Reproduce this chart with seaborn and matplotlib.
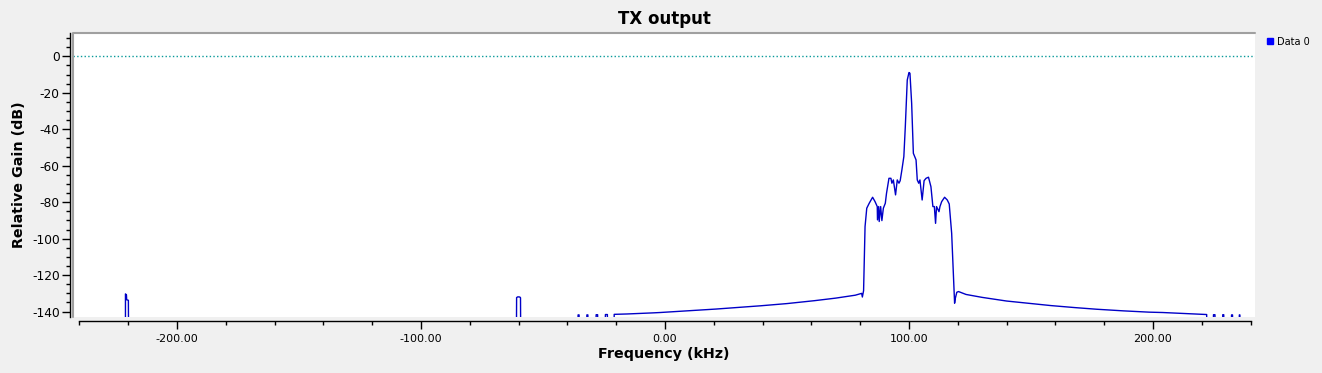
import pandas as pd
import seaborn as sns
import matplotlib.pyplot as plt
from matplotlib.lines import Line2D
from matplotlib.ticker import MultipleLocator, StrMethodFormatter

# Values (kHz, dB).
# -160 means the trace is below the visible floor at that point.
freq_khz = [
    -242.0, -221.1, -221.1, -220.7, -220.6, -219.9, -219.8,
    -60.9, -60.8, -60.3, -59.5, -59.2, -59.1,
    -35.8, -35.6, -35.2, -35.0, -32.2, -32.0, -31.6, -31.4,
    -28.4, -28.2, -27.6, -27.4, -24.6, -24.4, -23.6, -23.4,
    -21.0, -20.8, -18.0, -15.6, -10.0, -5.0, -2.0, 2.7, 10.0,
    20.9, 30.0, 39.3, 50.0, 61.3, 70.0, 78.0, 80.6, 80.9, 81.4,
    82.0, 82.7, 83.7, 85.1, 86.1, 87.0, 87.1, 87.6, 87.8, 88.4,
    88.9, 89.5, 90.3, 90.8, 91.8, 92.6, 93.0, 93.6, 94.5, 95.2,
    95.9, 96.4, 97.1, 97.9, 98.5, 99.3, 100.0, 100.4, 101.1, 101.8,
    102.9, 103.4, 104.0, 104.5, 105.4, 106.2, 107.0, 108.0, 109.0,
    109.8, 110.4, 110.9, 111.3, 112.3, 112.7, 113.4, 114.6, 115.7,
    116.5, 117.5, 118.2, 118.7, 119.0, 119.6, 120.3, 123.4, 130.0,
    140.0, 150.0, 158.2, 168.0, 176.9, 188.0, 198.4, 204.0, 212.0,
    220.5, 222.0, 222.2, 224.6, 224.8, 225.4, 225.6, 228.4, 228.6,
    229.0, 229.2, 232.0, 232.2, 232.6, 232.8, 235.2, 235.4, 235.6,
    235.8, 242.0,
]
gain_db = [
    -160.0, -160.0, -130.3, -130.8, -133.5, -133.8, -160.0,
    -160.0, -132.3, -131.9, -132.0, -132.4, -160.0,
    -160.0, -141.8, -141.8, -160.0, -160.0, -141.8, -141.8, -160.0,
    -160.0, -141.7, -141.7, -160.0, -160.0, -141.6, -141.6, -160.0,
    -160.0, -141.5, -141.4, -141.3, -141.0, -140.7, -140.5, -140.1, -139.5,
    -138.6, -137.7, -136.8, -135.6, -134.0, -132.6, -131.0, -130.0, -132.0, -128.5,
    -93.4, -83.3, -80.6, -77.3, -79.7, -82.4, -89.7, -82.4, -90.6, -82.4,
    -90.1, -83.3, -80.6, -75.1, -66.9, -66.9, -69.6, -67.8, -76.0, -67.8,
    -69.6, -68.2, -62.3, -55.0, -38.6, -13.0, -8.9, -9.3, -25.8, -53.2,
    -56.8, -67.8, -69.6, -67.8, -78.8, -68.2, -66.9, -66.3, -71.5,
    -82.4, -82.4, -91.6, -82.4, -85.2, -82.4, -79.7, -77.3, -78.8,
    -81.0, -97.1, -119.0, -135.4, -132.7, -129.4, -129.0, -130.6, -132.2,
    -134.2, -135.6, -136.7, -137.8, -138.7, -139.6, -140.3, -140.5, -141.0,
    -141.5, -141.6, -160.0, -160.0, -141.7, -141.7, -160.0, -160.0, -141.7,
    -141.7, -160.0, -160.0, -141.8, -141.8, -160.0, -160.0, -141.8, -141.8,
    -160.0, -160.0,
]

x_ticks = [-200, -100, 0, 100, 200]
y_ticks = [-140, -120, -100, -80, -60, -40, -20, 0]

df = pd.DataFrame({"freq": freq_khz, "gain": gain_db})

sns.set_style("white")
plt.rcParams["font.family"] = ["DejaVu Sans"]
plt.rcParams["axes.unicode_minus"] = False
plt.rcParams["text.color"] = "black"
plt.rcParams["axes.labelcolor"] = "black"
plt.rcParams["xtick.color"] = "black"
plt.rcParams["ytick.color"] = "black"

fig = plt.figure(figsize=(13.22, 3.73), dpi=100, facecolor="#f0f0f0")
ax = fig.add_axes([0.0554, 0.1509, 0.8939, 0.7598])
ax.set_facecolor("white")

sns.lineplot(data=df, x="freq", y="gain", sort=False, estimator=None,
             color="#0000c8", lw=1.0, ax=ax, legend=False)
ax.axhline(0, color="#0a9a9a", ls=":", lw=1.0)

ax.set_xlim(-242.5, 241.8)
ax.set_ylim(-142.8, 12.6)

# scales like the Qwt plot: ticks outside, backbones a bit off the canvas
for side in ["top", "right"]:
    ax.spines[side].set_visible(False)
ax.spines["left"].set_position(("outward", 2.2))
ax.spines["bottom"].set_position(("outward", 3.0))
ax.spines["bottom"].set_bounds(-240, 240)
for side in ["left", "bottom"]:
    ax.spines[side].set_color("black")
    ax.spines[side].set_linewidth(1.0)

# sunken canvas frame (top and left edges)
ax.plot([0, 0, 1.0], [0, 1, 1], transform=ax.transAxes, color="#a0a0a0",
        lw=1.5, clip_on=False, zorder=5)

ax.set_xticks(x_ticks)
ax.set_yticks(y_ticks)
ax.xaxis.set_minor_locator(MultipleLocator(20))
ax.yaxis.set_minor_locator(MultipleLocator(5))
ax.xaxis.set_major_formatter(StrMethodFormatter("{x:.2f}"))
ax.tick_params(which="major", direction="out", length=5.5, width=1, color="black")
ax.tick_params(which="minor", direction="out", length=3, width=1, color="black")
ax.tick_params(axis="x", which="major", labelsize=8, pad=4)
ax.tick_params(axis="y", which="major", labelsize=8.8, pad=2)
ax.tick_params(which="both", left=True, bottom=True)

ax.set_title("TX output", fontsize=12, fontweight="bold", pad=7)
ax.set_xlabel("Frequency (kHz)", fontsize=10.3, fontweight="bold", labelpad=2)
ax.set_ylabel("Relative Gain (dB)", fontsize=10.3, fontweight="bold", labelpad=4)

handle = Line2D([], [], marker="s", color="#0000ff", linestyle="none", markersize=5)
fig.legend([handle], ["Data 0"], loc="upper left",
           bbox_to_anchor=(1261 / 1322, 1 - 33 / 373), frameon=False,
           fontsize=7, handletextpad=0.2, borderaxespad=0, handlelength=1)

fig.savefig("out.png", dpi=100, facecolor=fig.get_facecolor())
